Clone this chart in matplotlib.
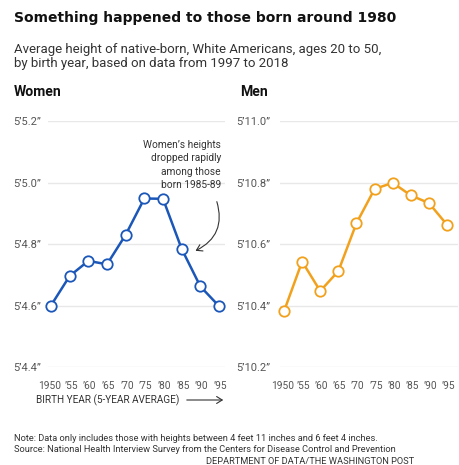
import matplotlib
matplotlib.use("Agg")
import matplotlib.pyplot as plt
import matplotlib.transforms as mtrans

# ---- data ----
birth_years = [1950, 1955, 1960, 1965, 1970, 1975, 1980, 1985, 1990, 1995]
xtick_labels = ["1950", "\u201955", "\u201960", "\u201965", "\u201970", "\u201975",
                "\u201980", "\u201985", "\u201990", "\u201995"]
# heights in inches
women_height = [64.60, 64.696, 64.745, 64.734, 64.83, 64.948, 64.947, 64.784, 64.662, 64.598]
men_height = [70.381, 70.543, 70.447, 70.512, 70.668, 70.779, 70.799, 70.758, 70.733, 70.662]
women_yticks = [64.4, 64.6, 64.8, 65.0, 65.2]
women_ylabels = ["5\u20194.4\u201d", "5\u20194.6\u201d", "5\u20194.8\u201d", "5\u20195.0\u201d", "5\u20195.2\u201d"]
men_yticks = [70.2, 70.4, 70.6, 70.8, 71.0]
men_ylabels = ["5\u201910.2\u201d", "5\u201910.4\u201d", "5\u201910.6\u201d", "5\u201910.8\u201d", "5\u201911.0\u201d"]

W, H = 460, 465
plt.rcParams['font.family'] = ['Roboto', 'DejaVu Sans']
fig = plt.figure(figsize=(W / 100, H / 100), dpi=100)
fig.patch.set_facecolor("white")
renderer = fig.canvas.get_renderer()

def fx(px):
    return px / W

def fy(py):
    return 1 - py / H

def fit(txt, width_px):
    # scale font size so the text spans the measured width
    for _ in range(3):
        bb = txt.get_window_extent(renderer=renderer)
        txt.set_fontsize(txt.get_fontsize() * width_px / bb.width)
    return txt

blue = "#1b57b9"
orange = "#f2a11d"
grid_c = "#e8e8e8"
tick_c = "#555555"
text_c = "#333333"
head_font = ['DejaVu Sans']

def panel(left, right, xmin, xmax, yticks, ylabels, values, color, label_right):
    ax = fig.add_axes([fx(left), fy(367), fx(right - left), (367 - 121) / H])
    ax.set_xlim(xmin, xmax)
    ax.set_ylim(yticks[0], yticks[-1])
    for yt in yticks:
        ax.axhline(yt, color=grid_c, lw=1.0, zorder=0)
    ax.plot(birth_years, values, color=color, lw=1.8, marker="o", ms=7.5,
            mfc="white", mec=color, mew=1.3, zorder=3, clip_on=False)
    for s in ax.spines.values():
        s.set_visible(False)
    ax.set_yticks(yticks)
    ax.set_yticklabels(ylabels)
    ax.tick_params(axis="y", length=0, pad=left - label_right, labelsize=8, labelcolor=tick_c)
    ax.set_xticks(birth_years)
    ax.set_xticklabels(xtick_labels)
    ax.tick_params(axis="x", length=0, pad=10, labelsize=7.3, labelcolor=tick_c)
    # nudge labels slightly apart from the wide "1950"
    for i, lab in enumerate(ax.get_xticklabels()):
        dx = -1.5 if i == 0 else 1.5
        lab.set_transform(lab.get_transform() + mtrans.ScaledTranslation(dx / 100, 0, fig.dpi_scale_trans))
    return ax

axw = panel(48, 225, 1949.2, 1996.6, women_yticks, women_ylabels, women_height, blue, 43)
axm = panel(280, 458, 1948.9, 1998.0, men_yticks, men_ylabels, men_height, orange, 273)

# titles
fit(fig.text(fx(14), fy(18), "Something happened to those born around 1980",
             fontsize=11.5, fontweight="bold", family=head_font, color="#111111",
             va="center", ha="left"), 384)
sub1 = fit(fig.text(fx(14), fy(49), "Average height of native-born, White Americans, ages 20 to 50,",
                    fontsize=9.3, color=text_c, va="center", ha="left"), 371)
fig.text(fx(14), fy(63.5), "by birth year, based on data from 1997 to 2018",
         fontsize=sub1.get_fontsize(), color=text_c, va="center", ha="left")
wm = fit(fig.text(fx(14), fy(92), "Women", fontsize=9.8, fontweight="bold",
                  color="#111111", va="center"), 48)
fig.text(fx(240), fy(92), "Men", fontsize=wm.get_fontsize(), fontweight="bold",
         color="#111111", va="center")

# annotation
ann_lines = ["Women\u2019s heights", "dropped rapidly", "among those", "born 1985-89"]
ann = [fig.text(fx(221), fy(145 + i * 13.3), t, fontsize=8, color=text_c,
                ha="right", va="center") for i, t in enumerate(ann_lines)]
fit(ann[0], 78)
for a in ann[1:]:
    a.set_fontsize(ann[0].get_fontsize())
fig.add_artist(matplotlib.patches.FancyArrowPatch(
    (fx(216), fy(199)), (fx(193), fy(252)), transform=fig.transFigure,
    connectionstyle="arc3,rad=-0.45", arrowstyle="->,head_length=4,head_width=2.5",
    color=text_c, lw=0.8))

# x axis caption
fit(fig.text(fx(36), fy(400), "BIRTH YEAR (5-YEAR AVERAGE)", fontsize=7.6, color=text_c,
             va="center", ha="left"), 144)
fig.add_artist(matplotlib.patches.FancyArrowPatch(
    (fx(184), fy(400)), (fx(226), fy(400)), transform=fig.transFigure,
    arrowstyle="->,head_length=4,head_width=2.5", color=text_c, lw=0.8))

# footnotes
n = fit(fig.text(fx(14), fy(438), "Note: Data only includes those with heights between 4 feet 11 inches and 6 feet 4 inches.",
                 fontsize=7.0, color=text_c, va="center", ha="left"), 369)
fig.text(fx(14), fy(449.5), "Source: National Health Interview Survey from the Centers for Disease Control and Prevention",
         fontsize=n.get_fontsize(), color=text_c, va="center", ha="left")
fig.text(fx(414), fy(461), "DEPARTMENT OF DATA/THE WASHINGTON POST",
         fontsize=n.get_fontsize(), color=text_c, va="center", ha="right")

fig.savefig("out.png", dpi=100, facecolor="white")
